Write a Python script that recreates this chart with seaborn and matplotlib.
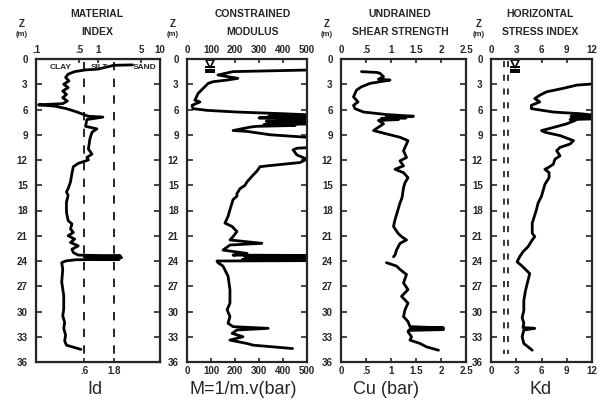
import numpy as np
import pandas as pd
import seaborn as sns
import matplotlib.pyplot as plt

sns.set_style("ticks")
plt.rcParams['font.family'] = ['Liberation Sans', 'DejaVu Sans']
plt.rcParams['font.weight'] = 'bold'

# --- Material index Id (log axis) ---
id_depth = [0.7, 0.75, 1.2, 1.3, 1.5, 1.8, 2.2, 2.6, 3.0, 3.4, 3.8, 4.2, 4.6, 5.0, 5.3,
            5.45, 5.6, 5.9, 6.3, 6.8, 6.9, 7.2, 8.0, 8.3, 8.7, 9.5, 10.7, 11.3, 11.7,
            12.0, 12.4, 12.8, 13.6, 14.6, 15.4, 15.8, 16.2, 17.0, 18.2, 19.2, 19.6,
            20.2, 20.6, 21.0, 21.4, 21.8, 22.2, 22.6, 23.0, 23.3, 23.4, 23.5, 23.6,
            23.7, 23.8, 23.85, 24.0, 24.2, 25.0, 26.5, 28.1, 29.7, 30.5, 31.3, 32.0,
            32.8, 33.5, 34.0, 34.5]
id_value = [3.6, 1.8, 1.0, 0.62, 0.42, 0.33, 0.30, 0.34, 0.28, 0.33, 0.27, 0.31, 0.27, 0.32, 0.27,
            0.11, 0.2, 0.31, 0.46, 0.69, 1.2, 0.66, 0.63, 0.96, 0.8, 0.74, 0.70, 0.8, 0.66,
            0.70, 0.48, 0.40, 0.38, 0.36, 0.33, 0.31, 0.33, 0.31, 0.31, 0.33, 0.38,
            0.36, 0.40, 0.33, 0.42, 0.36, 0.48, 0.38, 0.40, 0.48, 2.3, 0.6, 2.4,
            0.7, 2.2, 0.44, 0.30, 0.26, 0.27, 0.26, 0.28, 0.28, 0.27, 0.29, 0.28,
            0.30, 0.29, 0.31, 0.53]

# --- Constrained modulus M (bar) ---
m_depth = [1.25, 1.5, 1.9, 2.3, 2.5, 2.7, 2.9, 3.5, 4.1, 4.9, 5.1, 5.5, 5.9, 6.1, 6.3,
           6.5, 6.7, 6.8, 6.9, 7.0, 7.1, 7.2, 7.3, 7.4, 7.5, 7.6, 7.7, 7.8, 7.9, 8.0,
           8.1, 8.5, 8.6, 9.0, 9.3, 9.5, 10.4, 10.6, 10.8, 11.4, 11.7, 11.9, 12.3, 12.7,
           12.8, 13.3, 13.8, 14.6, 15.0, 15.4, 16.0, 16.3, 16.7, 17.9, 18.7, 19.5, 19.9,
           20.5, 21.1, 21.5, 21.9, 22.1, 22.7, 23.1, 23.3, 23.35, 23.45, 23.55, 23.65,
           23.75, 23.85, 23.95, 24.0, 24.2, 24.6, 25.8, 27.4, 29.0, 29.8, 30.6, 31.4,
           31.8, 32.0, 32.2, 32.6, 33.0, 33.4, 33.8, 34.0, 34.4]
m_value = [600, 192, 129, 212, 167, 108, 88, 67, 46, 33, 54, 21, 25, 83, 208,
           400, 560, 340, 560, 300, 560, 380, 560, 330, 560, 400, 560, 320, 450, 290,
           262, 192, 250, 346, 500, 600, 600, 458, 442, 458, 483, 500, 471, 333,
           304, 292, 275, 250, 242, 221, 208, 208, 192, 179, 171, 158, 188,
           208, 192, 179, 312, 179, 150, 250, 192, 560, 240, 560, 260,
           560, 230, 560, 125, 129, 150, 171, 179, 179, 167, 179, 171,
           192, 338, 208, 188, 233, 179, 250, 275, 440]

# --- Undrained shear strength Cu (bar), gap near 24 m ---
cu_depth_a = [1.5, 1.6, 1.7, 2.1, 2.4, 2.5, 2.7, 2.9, 3.3, 3.7, 4.5, 5.1, 5.5, 5.9, 6.3,
              6.6, 6.8, 6.9, 7.0, 7.1, 7.2, 7.3, 7.7, 8.1, 8.5, 8.9, 9.3, 9.7, 10.1,
              10.9, 11.7, 12.1, 12.7, 13.1, 13.5, 14.1, 14.7, 15.3, 16.5, 17.1, 17.9,
              19.1, 19.9, 20.7, 21.1, 21.5, 21.9, 22.7, 23.3, 23.5]
cu_value_a = [0.41, 0.72, 0.78, 0.85, 0.75, 0.98, 0.78, 0.58, 0.41, 0.31, 0.25, 0.34, 0.25, 0.28, 0.45,
              0.91, 1.45, 0.9, 1.3, 0.8, 1.15, 0.75, 0.85, 0.75, 0.65, 0.91, 1.18, 1.34, 1.31,
              1.25, 1.31, 1.18, 1.25, 1.08, 1.25, 1.34, 1.28, 1.25, 1.22, 1.18, 1.14,
              1.08, 1.05, 1.14, 1.21, 1.31, 1.18, 1.11, 1.08, 1.05]
cu_depth_b = [24.2, 24.6, 25.0, 25.6, 26.6, 27.4, 28.2, 29.0, 29.8, 30.6, 31.2, 31.8,
              31.95, 32.05, 32.15, 32.25, 32.4, 33.0, 33.4, 33.8, 34.2, 34.6]
cu_value_b = [0.91, 1.11, 1.18, 1.31, 1.25, 1.34, 1.21, 1.34, 1.28, 1.25, 1.34, 1.38,
              2.05, 1.38, 2.05, 1.35, 1.34, 1.41, 1.38, 1.58, 1.71, 1.95]

# --- Horizontal stress index Kd ---
kd_depth = [2.85, 3.0, 3.1, 3.5, 3.9, 4.3, 4.7, 5.1, 5.5, 5.9, 6.3, 6.5, 6.7, 6.8, 6.9,
            7.0, 7.1, 7.2, 7.3, 7.7, 8.3, 8.5, 8.7, 9.1, 9.7, 10.1, 10.5, 10.9, 11.5,
            11.9, 12.5, 12.9, 13.1, 13.5, 14.1, 14.9, 15.6, 16.3, 17.1, 17.9, 19.5,
            20.7, 21.1, 21.5, 22.3, 22.9, 23.5, 24.1, 24.7, 25.5, 26.3, 27.5, 28.7,
            29.9, 30.7, 31.4, 31.9, 32.0, 32.2, 33.0, 33.8, 34.2, 34.6]
kd_value = [13, 11.6, 10.2, 8.5, 6.6, 5.8, 5.2, 5.8, 4.8, 4.8, 7.4, 10.6, 12.5, 9.5, 12.5,
            9.6, 12.5, 9.4, 10.0, 9.0, 6.8, 6.0, 6.4, 8.2, 9.8, 9.4, 8.2, 7.8, 8.2,
            7.6, 7.4, 6.8, 6.4, 6.9, 6.9, 6.4, 6.2, 6.0, 5.6, 5.4, 4.9,
            4.9, 5.2, 4.9, 4.4, 3.8, 3.4, 3.1, 3.8, 4.6, 4.4, 4.1, 3.9,
            3.9, 3.7, 3.9, 3.8, 5.2, 3.9, 3.7, 3.9, 4.4, 4.9]

id_refs = [0.6, 1.8]
kd_refs = [1.5, 2.0]
depth_ticks = list(range(0, 37, 3))

W, H = 605, 403
fig = plt.figure(figsize=(W / 100, H / 100), dpi=100)
y0, y1 = 59, 362
lefts = [36, 187, 341, 491]
widths = [124, 120, 125, 101]
axes = [fig.add_axes([l / W, 1 - y1 / H, w / W, (y1 - y0) / H]) for l, w in zip(lefts, widths)]

lw = 2.0


def draw(ax, x, y):
    sns.lineplot(x=x, y=y, ax=ax, sort=False, estimator=None, orient='y',
                 color='black', linewidth=lw)


def style(ax):
    ax.set_ylim(36, 0)
    ax.set_yticks(depth_ticks)
    ax.tick_params(axis='y', direction='in', left=True, right=True, labelsize=7,
                   width=1.2, length=4, pad=6)
    ax.tick_params(axis='x', direction='in', top=True, bottom=True, labelsize=7,
                   width=1.2, length=3, pad=3)
    for s in ax.spines.values():
        s.set_linewidth(1.6)
        s.set_visible(True)
    ax.set_xlabel('')
    ax.set_ylabel('')


def water_table(ax, xv):
    ax.plot([xv], [0.55], marker='v', ms=6, mfc='white', mec='black', mew=1.2)
    ax.plot([xv, xv, xv], [1.0, 1.3, 1.6], marker='_', ms=[7][0], mew=1.4,
            color='black', lw=0)


# Panel 1: Id
ax = axes[0]
draw(ax, id_value, id_depth)
ax.set_xscale('log')
ax.set_xlim(0.1, 10)
style(ax)
for v in id_refs:
    ax.plot([v, v], [0.3, 35], color='black', lw=1.2, ls=(0, (5, 5)))
ax.set_xticks(id_refs)
ax.set_xticklabels(['.6', '1.8'])
ax.minorticks_off()
axt = ax.twiny()
axt.set_xscale('log')
axt.set_xlim(0.1, 10)
axt.set_xticks([0.1, 0.5, 1, 5, 10])
axt.set_xticklabels(['.1', '.5', '1', '5', '10'])
axt.minorticks_off()
axt.tick_params(axis='x', direction='in', labelsize=7, width=1.2, length=3, pad=3)
ax.tick_params(axis='x', top=False)
for txt, xv in [('CLAY', 0.25), ('SILT', 1.07), ('SAND', 5.7)]:
    ax.text(xv, 1.0, txt, ha='center', va='center', fontsize=6)

# Panel 2: M
ax = axes[1]
draw(ax, m_value, m_depth)
ax.set_xlim(0, 500)
style(ax)
ax.set_xticks([0, 100, 200, 300, 400, 500])
ax.tick_params(axis='x', labeltop=True)
water_table(ax, 96)

# Panel 3: Cu
ax = axes[2]
draw(ax, cu_value_a, cu_depth_a)
draw(ax, cu_value_b, cu_depth_b)
ax.set_xlim(0, 2.5)
style(ax)
ax.set_xticks([0, 0.5, 1, 1.5, 2, 2.5])
ax.set_xticklabels(['0', '.5', '1', '1.5', '2', '2.5'])
ax.tick_params(axis='x', labeltop=True)

# Panel 4: Kd
ax = axes[3]
draw(ax, kd_value, kd_depth)
ax.set_xlim(0, 12)
style(ax)
ax.set_xticks([0, 3, 6, 9, 12])
ax.tick_params(axis='x', labeltop=True)
for v in kd_refs:
    ax.plot([v, v], [0.2, 35], color='black', lw=1.1, ls=(0, (4, 5)))
water_table(ax, 2.8)

# Titles and Z labels
titles = [('MATERIAL', 'INDEX', 97), ('CONSTRAINED', 'MODULUS', 253),
          ('UNDRAINED', 'SHEAR STRENGTH', 400), ('HORIZONTAL', 'STRESS INDEX', 540)]
for t1, t2, xc in titles:
    fig.text(xc / W, 1 - 14 / H, t1, ha='center', va='center', fontsize=7.5)
    fig.text(xc / W, 1 - 32 / H, t2, ha='center', va='center', fontsize=7.5)
for xz in [22, 173, 327, 479]:
    fig.text(xz / W, 1 - 24 / H, 'Z', ha='center', va='center', fontsize=7)
    fig.text(xz / W, 1 - 35 / H, '(m)', ha='center', va='center', fontsize=5.5)

bottom_labels = [('Id', 95), ('M=1/m.v(bar)', 243), ('Cu (bar)', 386), ('Kd', 541)]
for lab, xc in bottom_labels:
    fig.text(xc / W, 1 - 390 / H, lab, ha='center', va='center', fontsize=13,
             fontweight='normal')

fig.savefig('out.png', dpi=100)
